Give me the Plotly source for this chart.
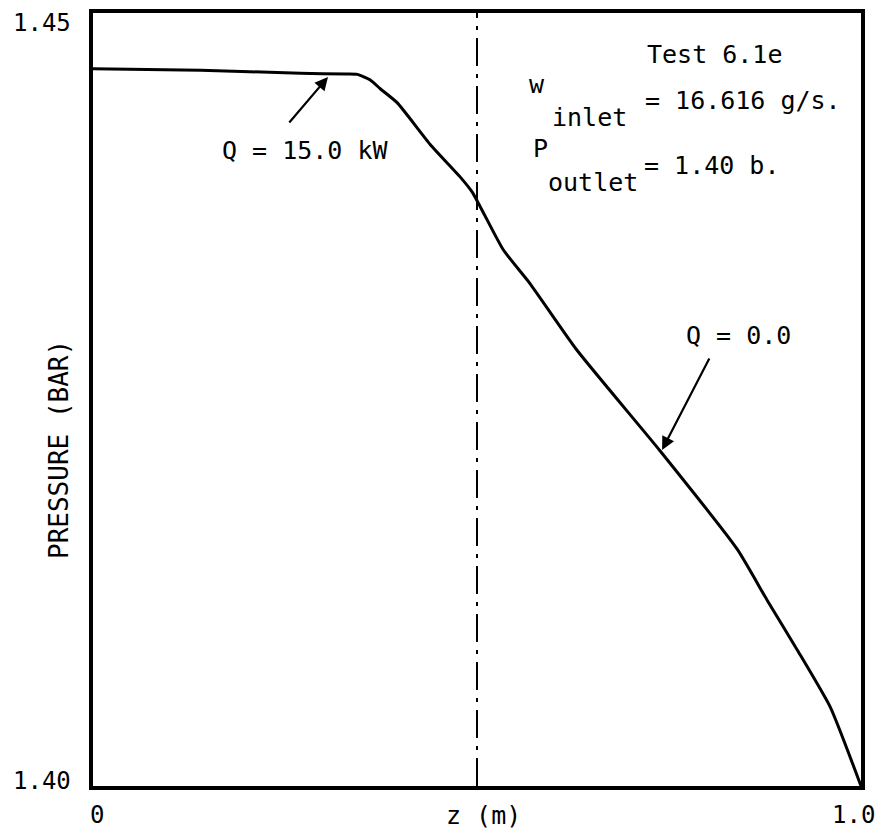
import plotly.graph_objects as go

# Data
z_m = [0.0, 0.14, 0.27, 0.33, 0.344, 0.361, 0.374, 0.396, 0.439, 0.478, 0.494,
       0.534, 0.569, 0.630, 0.738, 0.839, 0.878, 0.917, 0.960, 1.0]
pressure_bar = [1.4464, 1.4463, 1.4461, 1.44605, 1.44603, 1.44567, 1.4451, 1.4442,
                1.4415, 1.4394, 1.4384, 1.4347, 1.4325, 1.4282, 1.4217, 1.4153,
                1.4120, 1.4088, 1.4051, 1.4000]
x_ticks = [0.0, 1.0]
x_tick_labels = ["0", "1.0"]
y_ticks = [1.40, 1.45]
y_tick_labels = ["1.40", "1.45"]
heater_end_z = 0.5

FONT = "DejaVu Sans Mono"
fs = 25

# The page body has an 8px margin; plot area in viewport pixels:
OFF = 8
L, R, T, B = 93, 861, 13, 786
W, H = 885 - OFF, 839 - OFF

def px(xp):
    return (xp - L) / (R - L)
def py(yp):
    return (B - yp) / (B - T)

fig = go.Figure()
fig.add_trace(go.Scatter(
    x=z_m, y=pressure_bar, mode="lines",
    line=dict(color="black", width=3, shape="spline", smoothing=0.5),
    showlegend=False, hoverinfo="skip", cliponaxis=False))

fig.add_shape(type="line", xref="x", yref="paper", x0=heater_end_z, x1=heater_end_z,
              y0=0, y1=1, line=dict(color="black", width=2, dash="28px,8px,4px,8px"))

ann = []
def txt(s, xp, yp, size=fs, xanchor="left", yanchor="middle", **kw):
    ann.append(dict(text=s, xref="paper", yref="paper", x=px(xp), y=py(yp),
                    xanchor=xanchor, yanchor=yanchor, showarrow=False,
                    font=dict(family=FONT, size=size, color="black"), **kw))

txt("Test 6.1e", 645, 55)
txt("w", 527, 84)
txt("inlet", 550, 117)
txt("= 16.616 g/s.", 643, 101)
txt("P", 531, 148)
txt("outlet", 546, 182)
txt("= 1.40 b.", 642, 166)
txt("Q = 15.0 kW", 305, 150, xanchor="center")
txt("Q = 0.0", 738, 335, xanchor="center")
txt("z (m)", 483, 815, xanchor="center")
txt("PRESSURE (BAR)", 59, 450, size=26, xanchor="center", textangle=-90)

# tick labels tied to axis values
y_shifts = [5, -10]
for v, lab, ys in zip(y_ticks, y_tick_labels, y_shifts):
    ann.append(dict(text=lab, xref="paper", x=0, yref="y", y=v, xanchor="right",
                    yanchor="middle", xshift=-20, yshift=ys, showarrow=False,
                    font=dict(family=FONT, size=24, color="black")))
x_shifts = [4, -8]
for v, lab, xs in zip(x_ticks, x_tick_labels, x_shifts):
    ann.append(dict(text=lab, xref="x", x=v, yref="paper", y=0, xanchor="center",
                    yanchor="middle", xshift=xs, yshift=-29, showarrow=False,
                    font=dict(family=FONT, size=24, color="black")))

# arrows
ann.append(dict(x=0.306, y=1.44586, xref="x", yref="y", text="", showarrow=True,
                ax=-40, ay=47, arrowhead=2, arrowsize=1.2, arrowwidth=2.2,
                arrowcolor="black", standoff=0))
ann.append(dict(x=0.741, y=1.42174, xref="x", yref="y", text="", showarrow=True,
                ax=48, ay=-93, arrowhead=2, arrowsize=1.2, arrowwidth=2.2,
                arrowcolor="black", standoff=0))

fig.update_layout(
    width=W, height=H,
    margin=dict(l=L - OFF, r=W - (R - OFF), t=T - OFF, b=H - (B - OFF), autoexpand=False),
    paper_bgcolor="white", plot_bgcolor="white",
    annotations=ann,
    xaxis=dict(range=[0, 1], tickvals=x_ticks, showticklabels=False,
               showgrid=False, zeroline=False, showline=True, mirror=True,
               linecolor="black", linewidth=4, ticks="", automargin=False),
    yaxis=dict(range=[1.40, 1.45], tickvals=y_ticks, showticklabels=False,
               showgrid=False, zeroline=False, showline=True, mirror=True,
               linecolor="black", linewidth=4, ticks="", automargin=False),
)

fig.write_html("out.html")
